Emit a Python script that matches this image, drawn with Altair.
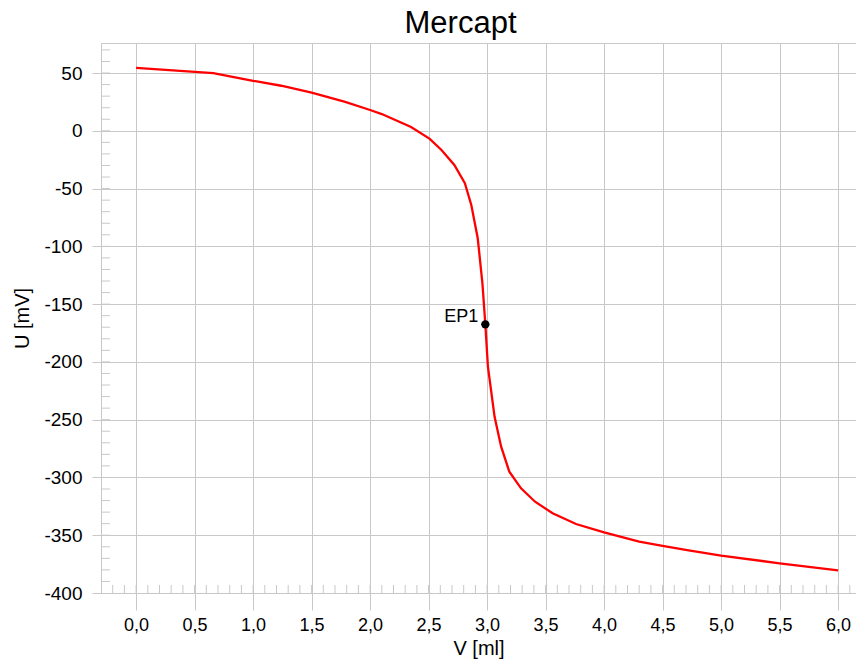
import altair as alt
import pandas as pd
import numpy as np

# Titration curve
volume_ml = [0.0, 0.66, 1.0, 1.24, 1.5, 1.78, 2.0, 2.1, 2.35, 2.51, 2.61, 2.72,
             2.81, 2.865, 2.92, 2.96, 2.985, 3.007, 3.064, 3.12, 3.19, 3.29,
             3.41, 3.56, 3.76, 4.0, 4.3, 4.5, 4.71, 5.0, 5.5, 6.0]
potential_mv = [54.5, 50.0, 43.3, 39.0, 33.0, 25.2, 18.0, 14.5, 3.3, -7.0, -16.6,
                -29.6, -45.4, -64.2, -93.0, -132.0, -167.5, -204.0, -247.5,
                -273.4, -295.0, -309.4, -321.0, -331.0, -340.3, -347.5, -355.6,
                -359.3, -362.8, -367.7, -374.3, -380.5]

# Equivalence point
ep_volume = [2.985]
ep_potential = [-167.5]
ep_label = ["EP1"]

# Axis ticks
x_major = [0.0, 0.5, 1.0, 1.5, 2.0, 2.5, 3.0, 3.5, 4.0, 4.5, 5.0, 5.5, 6.0]
y_major = [-400, -350, -300, -250, -200, -150, -100, -50, 0, 50]
x_minor = [round(v, 1) for v in np.arange(-0.2, 6.15, 0.1)]
y_minor = list(range(-390, 80, 10))

FONT = "Liberation Sans"
GRID = "#c8c8c8"

curve = pd.DataFrame({"V": volume_ml, "U": potential_mv})
ep = pd.DataFrame({"V": ep_volume, "U": ep_potential, "label": ep_label})
xm = pd.DataFrame({"V": x_minor})
ym = pd.DataFrame({"U": y_minor})

W, H = 755, 550
xscale = alt.Scale(domain=[-0.3, 6.153], nice=False, zero=False)
yscale = alt.Scale(domain=[-400, 76], nice=False, zero=False)

xaxis = alt.Axis(
    values=x_major,
    labelExpr="replace(format(datum.value, '.1f'), '.', ',')",
    tickSize=17, labelPadding=6, title="V [ml]", titlePadding=4,
    labelFontSize=18,
    grid=True, labelFlush=False, labelOverlap=False,
)
yaxis = alt.Axis(
    values=y_major,
    labelExpr="datum.value + ''",
    tickSize=9, labelPadding=10, title="U [mV]", titlePadding=11,
    labelFontSize=19,
    grid=True, labelFlush=False, labelOverlap=False,
)

line = alt.Chart(curve).mark_line(color="#ff0000", strokeWidth=2.3).encode(
    x=alt.X("V:Q", scale=xscale, axis=xaxis),
    y=alt.Y("U:Q", scale=yscale, axis=yaxis),
)

ymin = alt.Chart(ym).mark_rule(color=GRID, strokeWidth=1).encode(
    y=alt.Y("U:Q", scale=yscale),
    x=alt.value(0), x2=alt.value(9),
)
xmin = alt.Chart(xm).mark_rule(color=GRID, strokeWidth=1).encode(
    x=alt.X("V:Q", scale=xscale),
    y=alt.value(H - 8), y2=alt.value(H),
)

pt = alt.Chart(ep).mark_point(filled=True, color="black", size=70, opacity=1).encode(
    x=alt.X("V:Q", scale=xscale),
    y=alt.Y("U:Q", scale=yscale),
)
txt = alt.Chart(ep).mark_text(
    align="right", baseline="alphabetic", dx=-7, dy=-2,
    font=FONT, fontSize=18, color="black",
).encode(
    x=alt.X("V:Q", scale=xscale),
    y=alt.Y("U:Q", scale=yscale),
    text="label:N",
)

chart = alt.layer(line, ymin, xmin, pt, txt).properties(
    width=W, height=H,
    title=alt.Title("Mercapt", font=FONT, fontSize=31, fontWeight="normal",
                    color="black", dx=-18, offset=3),
    autosize=alt.AutoSizeParams(type="none"),
    padding={"left": 93, "top": 35, "right": 0, "bottom": 66},
).configure_view(
    stroke=GRID, strokeWidth=1
).configure_axis(
    domainColor=GRID, gridColor=GRID, tickColor=GRID,
    labelFont=FONT, labelColor="black",
    titleFont=FONT, titleFontSize=20, titleFontWeight="normal", titleColor="black",
)

chart.save("out.html", embed_options={"renderer": "svg", "actions": False})
